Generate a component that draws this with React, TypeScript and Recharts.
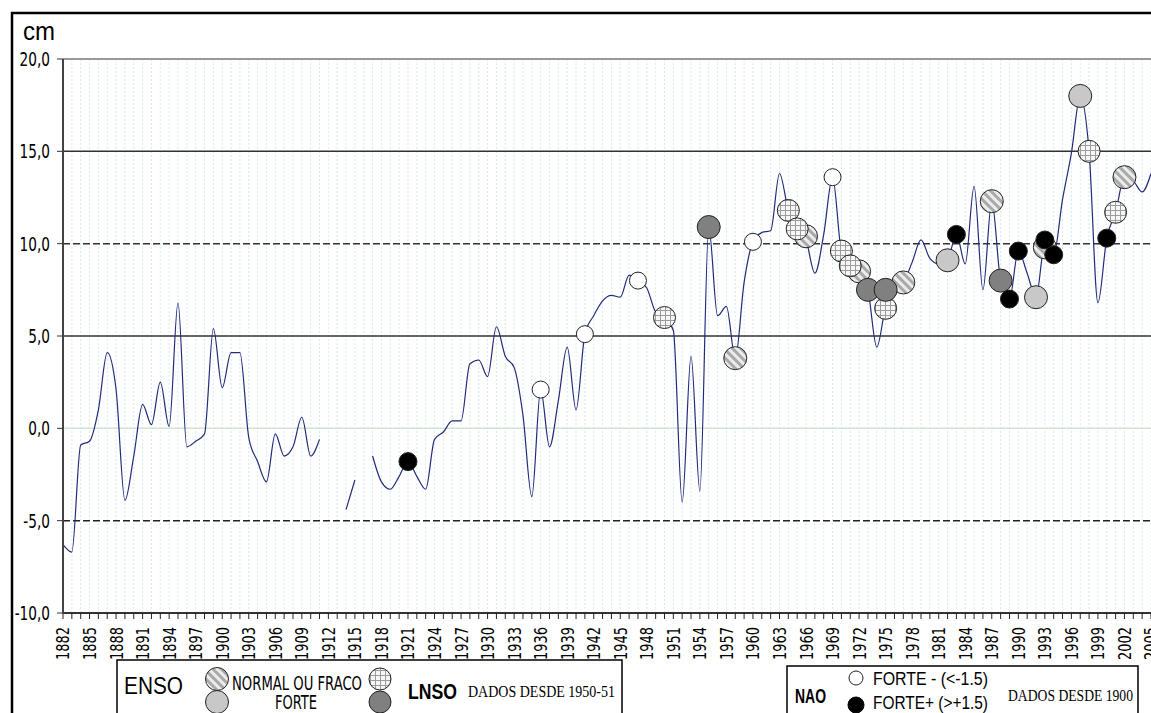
import React from 'react';
import { ComposedChart, Line, Scatter, XAxis, YAxis, CartesianGrid, ReferenceLine } from 'recharts';

const COND = "'DejaVu Sans Condensed', 'Liberation Sans Narrow', sans-serif";
const SANS = "'Liberation Sans', Arial, sans-serif";
const SERIF = "'Liberation Serif', 'Times New Roman', serif";

const firstYear = 1882;
const lastYear = 2005;
const years: number[] = [];
for (let y = firstYear; y <= lastYear; y++) years.push(y);

// sea level anomaly (cm), one value per year 1882..2005 (null = no data)
const seaLevel: (number | null)[] = [
  -6.3, -6.7, -0.9, -0.7, 1.0, 4.1, 2.1, -3.9,
  -1.5, 1.3, 0.2, 2.5, 0.1, 6.8, -1.0, -0.7, -0.3, 5.4,
  2.2, 4.1, 4.1, -0.5, -1.8, -2.9, -0.3, -1.5, -1.0, 0.6,
  -1.5, -0.6, null, null, -4.4, -2.8, null, -1.5, -2.9, -3.3,
  -2.6, -1.8, -2.6, -3.3, -0.6, -0.2, 0.4, 0.4, 3.5, 3.7,
  2.8, 5.5, 3.9, 3.3, 0.7, -3.7, 2.1, -1.0, 1.5, 4.4,
  1.0, 5.1, 6.1, 6.9, 7.2, 7.1, 8.3, 8.0, 7.6, 6.3,
  6.0, 5.3, -4.0, 3.9, -3.4, 10.9, 6.1, 6.6, 3.8, 7.9,
  10.1, 10.6, 10.7, 13.8, 11.8, 10.8, 10.2, 8.4, 10.5, 13.6,
  9.6, 8.8, 8.5, 7.5, 4.4, 6.6, 7.6, 7.9, 9.0, 10.2,
  9.2, 8.9, 9.1, 10.5, 8.9, 13.1, 7.5, 12.3, 8.0, 7.0,
  9.6, 8.4, 7.1, 10.0, 9.4, 12.4, 14.9, 18.0, 15.0, 6.8,
  10.3, 11.7, 13.6, 13.4, 12.8, 13.8,
];

const yTicks = [-10, -5, 0, 5, 10, 15, 20];

// ENSO normal ou fraco (hatched)
const ensoNormalYears = [1958, 1966, 1972, 1977, 1987, 1993, 2002];
const ensoNormalValues = [3.8, 10.4, 8.5, 7.9, 12.3, 9.8, 13.6];
// ENSO forte (light gray)
const ensoStrongYears = [1982, 1992, 1997];
const ensoStrongValues = [9.1, 7.1, 18.0];
// LNSO normal ou fraco (cross-hatched)
const lnsoNormalYears = [1950, 1964, 1965, 1970, 1971, 1975, 1998, 2001];
const lnsoNormalValues = [6.0, 11.8, 10.8, 9.6, 8.8, 6.5, 15.0, 11.7];
// LNSO forte (dark gray)
const lnsoStrongYears = [1955, 1973, 1975, 1988];
const lnsoStrongValues = [10.9, 7.5, 7.5, 8.0];
// NAO forte - (white)
const naoNegYears = [1936, 1941, 1947, 1960, 1969];
const naoNegValues = [2.1, 5.1, 8.0, 10.1, 13.6];
// NAO forte + (black)
const naoPosYears = [1921, 1983, 1989, 1990, 1993, 1994, 2000];
const naoPosValues = [-1.8, 10.5, 7.0, 9.6, 10.2, 9.4, 10.3];

const zip = (ys: number[], vs: number[]) => ys.map((year, i) => ({ year, v: vs[i] }));
const lineData = years.map((year, i) => ({ year, v: seaLevel[i] }));

const circleShape = (fill: string, r: number) => (props: any) => {
  const { cx, cy } = props;
  if (cx == null || cy == null) return <g />;
  return <circle cx={cx} cy={cy} r={r} fill={fill} stroke="#222" strokeWidth={1} />;
};

const XTick = (props: any) => {
  const { x, y, payload } = props;
  const yr = payload.value;
  if ((yr - firstYear) % 3 !== 0) return <g />;
  return (
    <g transform={`translate(${x},${y + 6}) rotate(-90) scale(0.8,1)`}>
      <text x={0} y={0} dy="0.36em" textAnchor="end" fill="#000" fontSize={18} fontFamily={COND}>
        {yr}
      </text>
    </g>
  );
};

const fmtY = (v: number) => v.toFixed(1).replace('.', ',');

const YTick = (props: any) => {
  const { x, y, payload } = props;
  return (
    <g transform={`translate(${x},${y}) scale(0.8,1)`}>
      <text x={0} y={0} dy="0.36em" textAnchor="end" fill="#000" fontSize={19} fontFamily={COND}>
        {fmtY(payload.value)}
      </text>
    </g>
  );
};

export default function App() {
  return (
    <div style={{ position: 'fixed', left: 0, top: 0, width: 1151, height: 713, overflow: 'hidden', background: '#fff' }}>
      <svg width={0} height={0} style={{ position: 'absolute' }}>
        <defs>
          <pattern id="hatch" patternUnits="userSpaceOnUse" width={6} height={6} patternTransform="rotate(-45)">
            <rect width={6} height={6} fill="#ececec" />
            <rect width={3} height={6} fill="#a9a9a9" />
          </pattern>
          <pattern id="cross" patternUnits="userSpaceOnUse" width={5} height={5}>
            <rect width={5} height={5} fill="#f6f6f6" />
            <path d="M0 0.5H5M0.5 0V5" stroke="#9c9c9c" strokeWidth={1} />
          </pattern>
        </defs>
      </svg>
      <div style={{ position: 'absolute', left: 0, top: 0 }}>
        <ComposedChart width={1151} height={713} margin={{ top: 59, right: 0, bottom: 40, left: 0 }}>
          <CartesianGrid vertical horizontal={false} stroke="#d3ebf2" strokeDasharray="2 2" />
          <XAxis
            type="number"
            dataKey="year"
            domain={[firstYear, lastYear]}
            ticks={years}
            interval={0}
            height={60}
            tick={<XTick />}
            tickSize={6}
            tickLine={{ stroke: '#222' }}
            axisLine={{ stroke: '#333', strokeWidth: 2 }}
            allowDecimals={false}
          />
          <YAxis
            type="number"
            domain={[-10, 20]}
            ticks={yTicks}
            width={63}
            tickSize={6}
            tickMargin={7}
            tick={<YTick />}
            tickLine={{ stroke: '#333' }}
            axisLine={{ stroke: '#444', strokeWidth: 2 }}
          />
          <ReferenceLine y={20} stroke="#9a9a9a" strokeWidth={2} />
          <ReferenceLine y={15} stroke="#333" strokeWidth={1.5} />
          <ReferenceLine y={10} stroke="#333" strokeWidth={1.5} strokeDasharray="7 3" />
          <ReferenceLine y={5} stroke="#333" strokeWidth={1.5} />
          <ReferenceLine y={0} stroke="#cfe6cf" strokeWidth={1.5} />
          <ReferenceLine y={-5} stroke="#222" strokeWidth={1.5} strokeDasharray="7 3" />
          <Scatter data={zip(naoNegYears, naoNegValues)} dataKey="v" shape={circleShape('#fff', 8.5)} isAnimationActive={false} />
          <Line
            data={lineData}
            dataKey="v"
            type="monotone"
            stroke="#222b7a"
            strokeWidth={1.2}
            dot={false}
            activeDot={false}
            connectNulls={false}
            isAnimationActive={false}
          />
          <Scatter data={zip(ensoNormalYears, ensoNormalValues)} dataKey="v" shape={circleShape('url(#hatch)', 11.5)} isAnimationActive={false} />
          <Scatter data={zip(ensoStrongYears, ensoStrongValues)} dataKey="v" shape={circleShape('#c8c8c8', 11.5)} isAnimationActive={false} />
          <Scatter data={zip(lnsoNormalYears, lnsoNormalValues)} dataKey="v" shape={circleShape('url(#cross)', 11)} isAnimationActive={false} />
          <Scatter data={zip(lnsoStrongYears, lnsoStrongValues)} dataKey="v" shape={circleShape('#808080', 11.5)} isAnimationActive={false} />
          <Scatter data={zip(naoPosYears, naoPosValues)} dataKey="v" shape={circleShape('#000', 9)} isAnimationActive={false} />
        </ComposedChart>
      </div>
      <svg width={1151} height={713} style={{ position: 'absolute', left: 0, top: 0, pointerEvents: 'none' }}>
        <rect x={12} y={13} width={1300} height={1000} fill="none" stroke="#000" strokeWidth={2.5} />
        <text x={23} y={40} fontSize={26} fontFamily={SANS} textLength={32} lengthAdjust="spacingAndGlyphs" fill="#000">cm</text>

        {/* ENSO / LNSO legend */}
        <rect x={117} y={660} width={505} height={100} fill="none" stroke="#000" strokeWidth={1.5} />
        <text x={124} y={694} fontSize={23} fontFamily={SANS} textLength={59} lengthAdjust="spacingAndGlyphs" fill="#000">ENSO</text>
        <circle cx={217} cy={679} r={11.5} fill="url(#hatch)" stroke="#222" strokeWidth={1} />
        <circle cx={217} cy={702} r={11.5} fill="#c8c8c8" stroke="#222" strokeWidth={1} />
        <text x={232} y={690} fontSize={19} fontFamily={COND} textLength={130} lengthAdjust="spacingAndGlyphs" fill="#000">NORMAL OU FRACO</text>
        <text x={275} y={709} fontSize={19} fontFamily={COND} textLength={42} lengthAdjust="spacingAndGlyphs" fill="#000">FORTE</text>
        <circle cx={380} cy={679} r={11} fill="url(#cross)" stroke="#222" strokeWidth={1} />
        <circle cx={380} cy={702} r={11} fill="#808080" stroke="#222" strokeWidth={1} />
        <text x={408} y={699} fontSize={22} fontWeight="bold" fontFamily={SANS} textLength={49} lengthAdjust="spacingAndGlyphs" fill="#000">LNSO</text>
        <text x={468} y={697} fontSize={17} fontFamily={SERIF} textLength={147} lengthAdjust="spacingAndGlyphs" fill="#000">DADOS DESDE 1950-51</text>

        {/* NAO legend */}
        <rect x={787} y={666} width={351} height={100} fill="none" stroke="#000" strokeWidth={1.5} />
        <text x={795} y={703} fontSize={20} fontWeight="bold" fontFamily={SANS} textLength={31} lengthAdjust="spacingAndGlyphs" fill="#000">NAO</text>
        <circle cx={856} cy={678} r={7} fill="#fff" stroke="#222" strokeWidth={1} />
        <circle cx={856} cy={705} r={8} fill="#000" stroke="#000" strokeWidth={1} />
        <text x={873} y={685} fontSize={19} fontFamily={SANS} textLength={115} lengthAdjust="spacingAndGlyphs" fill="#000">FORTE - (&lt;-1.5)</text>
        <text x={873} y={709} fontSize={19} fontFamily={SANS} textLength={115} lengthAdjust="spacingAndGlyphs" fill="#000">FORTE+ (&gt;+1.5)</text>
        <text x={1008} y={701} fontSize={16} fontFamily={SERIF} textLength={125} lengthAdjust="spacingAndGlyphs" fill="#000">DADOS DESDE 1900</text>
      </svg>
    </div>
  );
}
